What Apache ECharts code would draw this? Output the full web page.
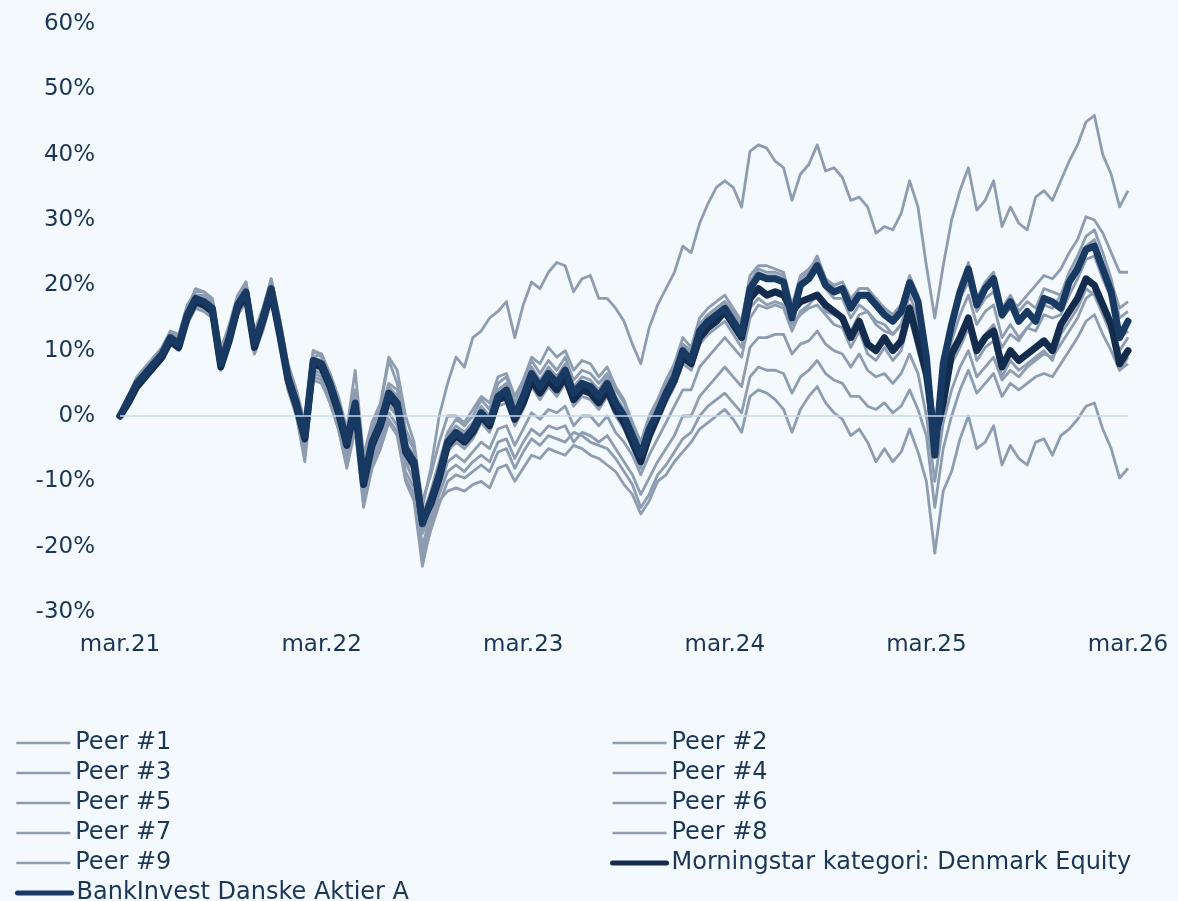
<!DOCTYPE html>
<html>
<head>
<meta charset="utf-8">
<script src="https://cdn.jsdelivr.net/npm/echarts@6/dist/echarts.min.js"></script>
<style>
html,body{margin:0;padding:0;background:#f4f9fe;}
#chart{width:1178px;height:901px;}
</style>
</head>
<body>
<div id="chart"></div>
<script>
// x positions: semi-monthly steps from mar.21 (0) to mar.26 (120)
const tickLabels = ['mar.21','mar.22','mar.23','mar.24','mar.25','mar.26'];

const peer1 = [
0,3,5.5,7,9,10,12.5,12,16,18.5,
18.5,17,9.5,13,17.5,20,12,16,20.5,14,
7,3,-1.5,9,9.5,6.5,2.5,-2,4,-7,
-2,1.5,8.5,5,-2,-5,-14,-8,0,5,
9,7.5,12,13,15,16,17.5,12,17,20.5,
19.5,22,23.5,23,19,21,21.5,18,18,16.5,
14.5,11,8,13.5,17,19.5,22,26,25,29.5,
32.5,35,36,35,32,40.5,41.5,41,39,38,
33,37,38.5,41.5,37.5,38,36.5,33,33.5,32,
28,29,28.5,31,36,32,23,15,23,30,
34.5,38,31.5,33,36,29,32,29.5,28.5,33.5,
34.5,33,36,39,41.5,45,46,40,37,32,
34.5];
const peer2 = [
0,2,4,5.5,7,9,11,10,14,16.5,
16,15,7.5,11,15.5,17.5,9.5,13,17.5,11.5,
4,0,-6,6,5.5,2,-2,-8,-2,-14,
-8,-5,-1,-3,-10,-13,-23,-17,-13,-11.5,
-11,-11.5,-10.5,-10,-11,-8,-7.5,-10,-8,-6,
-6.5,-5,-5.5,-6,-4.5,-5,-6,-6.5,-7.5,-8.5,
-10.5,-12,-15,-13,-10,-9,-7,-5.5,-4,-2,
-1,0,1,-0.5,-2.5,3,4,3.5,2.5,1,
-2.5,1,3,4.5,2,0.5,-0.5,-3,-2,-4,
-7,-5,-7,-5.5,-2,-5.5,-10,-21,-11.5,-8.5,
-3.5,0,-5,-4,-1.5,-7.5,-4.5,-6.5,-7.5,-4,
-3.5,-6,-3,-2,-0.5,1.5,2,-2,-5,-9.5,
-8];
const peer3 = [
0,3,5.5,7.5,8.5,10.5,13,12.5,17,19,
19,17.5,10,14,18.5,20.5,13,16.5,21,15,
8,4,-1,10,9,6.5,3,-2,7,-6,
-1,2,9,7,0,-4,-13,-9,-4,0,
0,-1,1,3,2,6,6.5,3,5.5,9,
8,10.5,9,10,7,8.5,8,6,7.5,4.5,
2.5,-1,-5,-1,2,5,7.5,11,10,14,
15.5,16.5,17.5,16,14,20.5,22.5,22,22,21.5,
16.5,21,22,24.5,21,20,20.5,18,19.5,19.5,
17.5,16.5,15.5,17,21,18,10,-3,8.5,14,
18,20.5,16,18,19,15,16.5,17,18.5,20,
21.5,21,22.5,25,27,30.5,30,28,25,22,
22];
const peer4 = [
0,2,4.5,6,7.5,9,11.5,10.5,15,17.5,
17,16,8,11.5,16.5,18.5,10.5,14,18.5,12,
5,1,-4.5,7,6.5,3.5,0,-6,0,-12,
-6,-3,1.5,0,-7,-10,-20,-15,-11,-7,
-6,-7,-5.5,-4,-5,-2,-1.5,-4.5,-2,0.5,
-0.5,1,0.5,1.5,-1.5,0,0,-1.5,0,-2.5,
-4,-6,-9,-6,-3.5,-1,1.5,4,4,7.5,
9,10.5,12,10.5,9,15,17,16.5,17,16.5,
13,16,17,18.5,16,15.5,15,13,15.5,16,
14,13,12.5,14,17,14.5,7,-6,3,8,
12,14.5,10.5,12.5,14,10.5,12.5,11.5,13.5,15,
17,16.5,18.5,21,23.5,26,27,23.5,20.5,16.5,
17.5];
const peer5 = [
0,2.5,4.5,6,8,9.5,11.5,11,15,17,
16.5,15.5,8.5,11.5,16,18,10,14,18,12.5,
4.5,0.5,-5.5,6.5,6,3,-1,-6.5,-1,-12.5,
-7,-4,0.5,-1.5,-8.5,-11,-21,-16,-12,-8.5,
-7.5,-8.5,-7,-6,-7,-4,-3.5,-6.5,-4,-2,
-3,-1.5,-2,-1.5,-4,-2.5,-3,-4,-3,-5,
-7,-9,-12,-9.5,-7,-5,-3,0,0,3,
4.5,6,7.5,6,4.5,10.5,12,12,12.5,12.5,
9.5,11,11.5,13,11,10,9.5,7.5,9.5,7,
6,6.5,5,6.5,9.5,6.5,0,-10,-1,4,
7.5,10,6,7.5,9,5.5,7,6,7.5,8.5,
9.5,9,11,13,15,18,19,16,13,10,
12];
const peer6 = [
0,2,4,5.5,7.5,9,11,10.5,14.5,16.5,
16,15,8,11,15.5,17.5,9.5,13.5,17.5,12,
4,0,-7,5.5,5,2,-2,-7.5,-2,-13.5,
-8,-5,-0.5,-2.5,-9.5,-12,-22,-17.5,-13.5,-10,
-9,-9.5,-8.5,-7.5,-8.5,-5.5,-5,-8,-5.5,-3.5,
-4.5,-3,-3.5,-4,-2.5,-3,-4,-4.5,-5,-6.5,
-8.5,-10.5,-14,-12,-9,-7.5,-5.5,-3.5,-2.5,0,
1.5,2.5,3.5,2,0.5,6,7.5,7,7,6.5,
3.5,6,7,8.5,6.5,5.5,5,3,3,1.5,
1,2,0.5,1.5,4,1,-3,-14,-5,0,
4,7,3.5,5,6.5,3,5,4,5,6,
6.5,6,8,10,12,14.5,15.5,12.5,10,7,
8];
const peer7 = [
0,2.5,5.5,7,8.5,10,12.5,11.5,16,18.5,
18,17,9,12.5,17.5,19.5,11.5,15.5,20,13.5,
6.5,2.5,-2.5,9,8.5,5.5,1.5,-3,3,-9,
-3,0,4.5,3,-4,-6,-15,-12,-8,-3,
-1.5,-2.5,-1,1.5,0,4,5,1,4,7.5,
5.5,7.5,6,8,4.5,6,5.5,4,6,3,
1,-2,-5,-1,1.5,4.5,7,11,9.5,14,
15.5,16.5,17.5,15.5,13.5,20,22,21.5,21.5,21,
16,20,21,22.5,19.5,18,18,15,17,16,
14.5,14,12.5,14,18.5,15,7.5,-5,5,11.5,
15.5,18.5,14,16,17,12,14,12,13.5,13,
15.5,15,15.5,18.5,21,24,24.5,21,18,12,
13];
const peer8 = [
0,1.5,4,5.5,7,8.5,11,10,14.5,17,
16.5,15.5,7,11,16,18,10,14,18.5,12,
5,1,-4.5,7.5,7,4,0,-5.5,0.5,-11.5,
-5.5,-2.5,2,0.5,-6.5,-8.5,-18,-14.5,-10.5,-5.5,
-4,-5,-3.5,-1,-2.5,1.5,2,-1.5,1,4.5,
2.5,4.5,3,5,1.5,3,2.5,1,3,0,
-2,-5,-8,-4,-1,2,4.5,8,7,11,
12.5,13.5,14.5,12.5,10.5,16.5,18,17,17.5,17,
14,15.5,16.5,17,15.5,14,13.5,10.5,13,9.5,
8.5,10.5,8.5,10,15,10,5,-5,0.5,8,
10.5,13.5,8.5,10.5,11.5,6,8.5,7,8,9,
10,8.5,12.5,14.5,16.5,19.5,18.5,15.5,12.5,7,
9];
const peer9 = [
0,3,6,7.5,9,10.5,13,12,16.5,19.5,
19,18,10.5,13.5,18,20.5,12.5,16,21,15,
7.5,3.5,-1.5,10,9.5,6,2,-2.5,4,-8,
-2,1,5,4,-3,-5,-15.5,-11.5,-7,-2.5,
-0.5,-1.5,0,2.5,1,5,6,2,5,8.5,
6.5,8.5,7,9,5.5,7,6.5,5,6.5,4,
2,-1,-4,0,2.5,5.5,8,12,10.5,15,
16.5,17.5,18.5,16.5,14.5,21.5,23,23,22.5,22,
17,21.5,22.5,24,21,20,20.5,17.5,19.5,19.5,
18,16.5,15.5,17,21.5,18.5,10,-4,9,15,
20,23.5,18,20.5,22,16.5,18.5,16,17.5,16.5,
19.5,19,18.5,22,24.5,27.5,28.5,25,21,15,
16];
const morningstar = [
0,2,4.5,6,7.5,9,11.5,10.5,15,17.5,
17,16,7.5,11.5,16.5,18.5,10.5,14.5,19,12.5,
5.5,1.5,-3.5,8,7.5,4.5,0.5,-4.5,1.5,-10.5,
-4.5,-1.5,3,1.5,-5.5,-7.5,-16,-13.5,-9.5,-4.5,
-3,-4,-2.5,0,-1.5,2.5,3,-0.5,2,5.5,
3.5,5.5,4,6,2.5,4,3.5,2,4,1,
-1,-4,-7,-3,0,3,5.5,9,8,12,
13.5,14.5,16,14,12,18,19.5,18.5,19,18.5,
16,17.5,18,18.5,17,16,15,12,14.5,11,
10,12,10,11.5,16.5,11.5,6.5,-3.5,2,9.5,
12,15,10,12,13,7.5,10,8.5,9.5,10.5,
11.5,10,14,16,18,21,20,17,14,8,
10];
const bankinvest = [
0,2.5,5,6.5,8,9.5,12,11,15.5,18,
17.5,16.5,8,12,17,19,11,15,19.5,13,
6,2,-3,8.5,8,5,1,-4,2,-10,
-4,-1,3.5,2,-5,-7,-16.5,-13,-9,-4,
-2.5,-3.5,-2,0.5,-1,3,4,0,3,6.5,
4.5,6.5,5,7,3.5,5,4.5,3,5,2,
0,-3,-6,-2,0.5,3.5,6,10,8.5,13,
14.5,15.5,16.5,14.5,12.5,19.5,21.5,21,21,20.5,
15,20,21,23,20,19,19.5,16.5,18.5,18.5,
17,15.5,14.5,16,20.4,17.5,9,-6,8,14,
19,22.5,17,19.5,21,15.5,17.5,14.5,16,14.5,
18,17.5,16.5,20.5,22.5,25.5,26,22.5,19,12,
14.5];

const peerNames = ['Peer #1','Peer #2','Peer #3','Peer #4','Peer #5','Peer #6','Peer #7','Peer #8','Peer #9'];
const peerData = [peer1,peer2,peer3,peer4,peer5,peer6,peer7,peer8,peer9];
const catName = 'Morningstar kategori: Denmark Equity';
const fundName = 'BankInvest Danske Aktier A';

const GRAY = '#8e9cb1';
const NAVY_CAT = '#132c4d';
const NAVY_FUND = '#183a62';
const TEXT = '#1b3556';
const FONT = '"DejaVu Sans", Verdana, sans-serif';

function pairs(arr){ return arr.map((v,i)=>[i,v]); }

const series = [];
peerNames.forEach((n,k)=>{
  series.push({
    name:n, type:'line', symbol:'none', showSymbol:false, data:pairs(peerData[k]),
    lineStyle:{color:GRAY, width:2.8, join:'round'}, itemStyle:{color:GRAY},
    z:2,
    markLine: k===0 ? {silent:true, symbol:'none', label:{show:false},
      lineStyle:{color:'#c6d9ee', width:1.5, type:'solid'}, data:[{yAxis:0}]} : undefined
  });
});
series.push({name:catName, type:'line', symbol:'none', showSymbol:false, data:pairs(morningstar),
  lineStyle:{color:NAVY_CAT, width:7, join:'round', cap:'round'}, itemStyle:{color:NAVY_CAT}, z:3});
series.push({name:fundName, type:'line', symbol:'none', showSymbol:false, data:pairs(bankinvest),
  lineStyle:{color:NAVY_FUND, width:7, join:'round', cap:'round'}, itemStyle:{color:NAVY_FUND}, z:4});

function legendItem(n){
  if(n===catName || n===fundName){
    return {name:n, lineStyle:{width:5, cap:'round'}, itemStyle:{opacity:0, borderWidth:0}};
  }
  return {name:n, lineStyle:{width:2.5}, itemStyle:{opacity:0, borderWidth:0}};
}
function makeLegend(left, top, names){
  return {
    orient:'vertical', left:left, top:top, padding:0,
    itemWidth:54, itemHeight:14, itemGap:6,
    selectedMode:false,
    itemStyle:{opacity:0, borderWidth:0},
    textStyle:{fontSize:24, lineHeight:22, color:TEXT, fontFamily:FONT},
    data:names.map(legendItem)
  };
}

const chart = echarts.init(document.getElementById('chart'), null, {renderer:'canvas'});
chart.setOption({
  animation:false,
  backgroundColor:'#f4f9fe',
  textStyle:{fontFamily:FONT},
  grid:{left:120, right:50, top:24, bottom:289, containLabel:false},
  xAxis:{type:'value', min:0, max:120, interval:24,
    axisLine:{show:false}, axisTick:{show:false}, splitLine:{show:false},
    axisLabel:{fontSize:23, color:TEXT, margin:22, fontFamily:FONT,
      formatter:v=>tickLabels[Math.round(v/24)]}},
  yAxis:{type:'value', min:-30, max:60, interval:10,
    axisLine:{show:false}, axisTick:{show:false}, splitLine:{show:false},
    axisLabel:{fontSize:23, color:TEXT, margin:25, fontFamily:FONT, formatter:'{value}%'}},
  legend:[
    makeLegend(15, 731, [peerNames[0],peerNames[2],peerNames[4],peerNames[6],peerNames[8]]),
    makeLegend(15, 881, [fundName]),
    makeLegend(610, 731, [peerNames[1],peerNames[3],peerNames[5],peerNames[7],catName])
  ],
  series:series
});
</script>
</body>
</html>
